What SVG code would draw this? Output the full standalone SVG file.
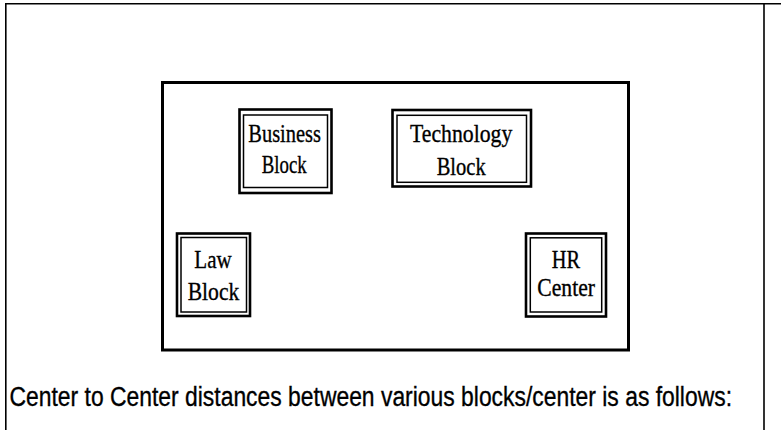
<svg xmlns="http://www.w3.org/2000/svg" width="781" height="430" viewBox="0 0 781 430">
<style>
.frame{fill:none;stroke:#000;stroke-width:1.6}
.campus{fill:none;stroke:#000;stroke-width:3}
.outer{fill:#fff;stroke:#000;stroke-width:2.6}
.inner{fill:none;stroke:#000;stroke-width:1.5}
.lbl{font-family:"Liberation Serif","Times New Roman",serif;font-size:26px;fill:#000;stroke:#000;stroke-width:0.35}
.cap{font-family:"Liberation Sans",Arial,sans-serif;font-size:22.5px;fill:#000;stroke:#000;stroke-width:0.28}
</style>
<rect width="781" height="430" fill="#fff"/>
<g id="frame">
<path class="frame" d="M5,3.8 H781 M5.8,3 V430 M764,3 V430"/>
</g>
<g id="campus">
<rect class="campus" x="162.5" y="82.5" width="466" height="267.5"/>
</g>
<g id="business-block">
<rect class="outer" x="239.5" y="109.5" width="92" height="83.5"/>
<rect class="inner" x="243.5" y="115" width="84" height="72.5"/>
<text class="lbl" x="248.3" y="142.3" textLength="72.7" lengthAdjust="spacingAndGlyphs">Business</text>
<text class="lbl" x="261.7" y="173.3" textLength="45" lengthAdjust="spacingAndGlyphs">Block</text>
</g>
<g id="technology-block">
<rect class="outer" x="392.5" y="110" width="138.5" height="76.5"/>
<rect class="inner" x="397" y="115.3" width="129.5" height="67"/>
<text class="lbl" x="410" y="141.7" textLength="102.3" lengthAdjust="spacingAndGlyphs">Technology</text>
<text class="lbl" x="436.7" y="175" textLength="49" lengthAdjust="spacingAndGlyphs">Block</text>
</g>
<g id="law-block">
<rect class="outer" x="177" y="233.5" width="73" height="82.5"/>
<rect class="inner" x="181" y="237.5" width="65.5" height="74.5"/>
<text class="lbl" x="194.3" y="267.7" textLength="37.4" lengthAdjust="spacingAndGlyphs">Law</text>
<text class="lbl" x="187.7" y="300" textLength="51.6" lengthAdjust="spacingAndGlyphs">Block</text>
</g>
<g id="hr-center">
<rect class="outer" x="526" y="233.5" width="80" height="83"/>
<rect class="inner" x="530.3" y="237.8" width="71.4" height="74.2"/>
<text class="lbl" x="551.7" y="267.7" textLength="28.3" lengthAdjust="spacingAndGlyphs">HR</text>
<text class="lbl" x="537.3" y="296" textLength="57.7" lengthAdjust="spacingAndGlyphs">Center</text>
</g>
<g id="connectors"></g>
<g id="caption">
<text class="cap" transform="translate(9.5,406) scale(1,1.2)" x="0" y="0" textLength="722.5" lengthAdjust="spacingAndGlyphs">Center to Center distances between various blocks/center is as follows:</text>
</g>
</svg>
